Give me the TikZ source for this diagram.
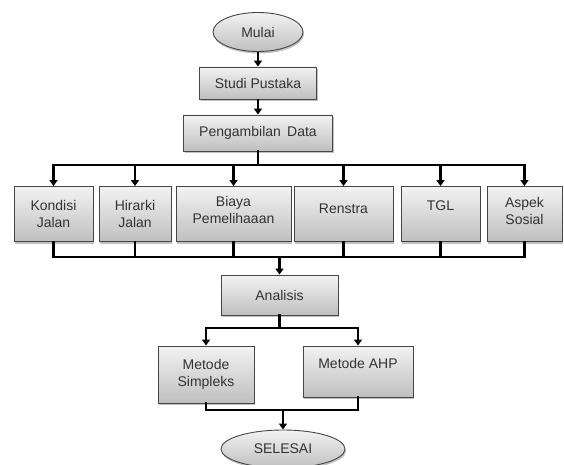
\documentclass[tikz,border=0pt]{standalone}
\usepackage{fontspec}
\setmainfont{Liberation Sans}
\usetikzlibrary{shapes.geometric,shadows,arrows.meta}
\begin{document}
\begin{tikzpicture}[x=1pt,y=-1pt,
  font=\fontsize{14}{16.5}\selectfont,
  boxstyle/.style={draw=gray!55!black, line width=0.9pt, top color=gray!10, bottom color=gray!50,
     rectangle, inner sep=0pt, align=center, text=black!80,
     drop shadow={shadow xshift=1pt, shadow yshift=-2pt, fill=gray!70, opacity=0.7}},
  ovalstyle/.style={boxstyle, ellipse},
  conn/.style={line width=2.2pt, black, line cap=rect},
  arr/.style={line width=2.2pt, black, -{Triangle[length=6pt,width=8pt]}}
]
\useasboundingbox (0,0) rectangle (564,465);
% top
\node[ovalstyle, minimum width=90, minimum height=39] (mulai) at (258,32) {Mulai};
\node[boxstyle, minimum width=117, minimum height=32] (studi) at (258,83) {Studi Pustaka};
\node[boxstyle, minimum width=149, minimum height=36] (peng) at (258,133) {Pengambilan\, Data};
% middle boxes
\node[boxstyle, minimum width=79, minimum height=55] (kond) at (53.5,214) {Kondisi\\Jalan};
\node[boxstyle, minimum width=72, minimum height=55] (hir) at (135,214) {Hirarki\\Jalan};
\node[boxstyle, minimum width=115, minimum height=55, text depth=8pt] (biaya) at (233.5,214) {Biaya\\Pemelihaaan};
\node[boxstyle, minimum width=99, minimum height=55, text depth=10pt] (ren) at (343.5,214) {Renstra};
\node[boxstyle, minimum width=79, minimum height=55, text depth=16pt] (tgl) at (440.5,214) {TGL};
\node[boxstyle, minimum width=75, minimum height=55, text depth=6pt] (aspek) at (524.5,214) {Aspek\\Sosial};
% analysis
\node[boxstyle, minimum width=117, minimum height=40] (anal) at (279.5,295) {Analisis};
\node[boxstyle, minimum width=96, minimum height=57] (simp) at (206,374.5) {Metode\\Simpleks};
\node[boxstyle, minimum width=110, minimum height=51, text depth=16pt] (ahp) at (358,371.5) {Metode AHP};
\node[ovalstyle, minimum width=124, minimum height=38] (sel) at (283,449) {SELESAI};
% coordinates
\coordinate (b1) at (258,165);
\coordinate (bL) at (53.5,165);
\coordinate (bR) at (524.5,165);
\coordinate (c1) at (279.5,257);
\coordinate (cL) at (53.5,257);
\coordinate (cR) at (524.5,257);
\coordinate (d1) at (279.5,328);
\coordinate (dL) at (206,328);
\coordinate (dR) at (358,328);
\coordinate (e1) at (283,410);
\coordinate (eL) at (206,410);
\coordinate (eR) at (358,410);
% connectors
\draw[arr] (mulai) -- (studi);
\draw[arr] (studi) -- (peng);
\draw[conn] (peng) -- (b1);
\draw[conn] (bL) -- (bR);
\foreach \n in {kond,hir,biaya,ren,tgl,aspek}{
  \draw[arr] (\n.north |- b1) -- (\n.north);
  \draw[conn] (\n.south) -- (\n.south |- c1);
}
\draw[conn] (cL) -- (cR);
\draw[arr] (c1) -- (anal.north);
\draw[conn] (anal) -- (d1);
\draw[conn] (dL) -- (dR);
\draw[arr] (dL) -- (simp.north);
\draw[arr] (dR) -- (ahp.north);
\draw[conn] (simp.south) -- (eL) -- (eR) -- (ahp.south);
\draw[arr] (e1) -- (sel.north);
\end{tikzpicture}
\end{document}
